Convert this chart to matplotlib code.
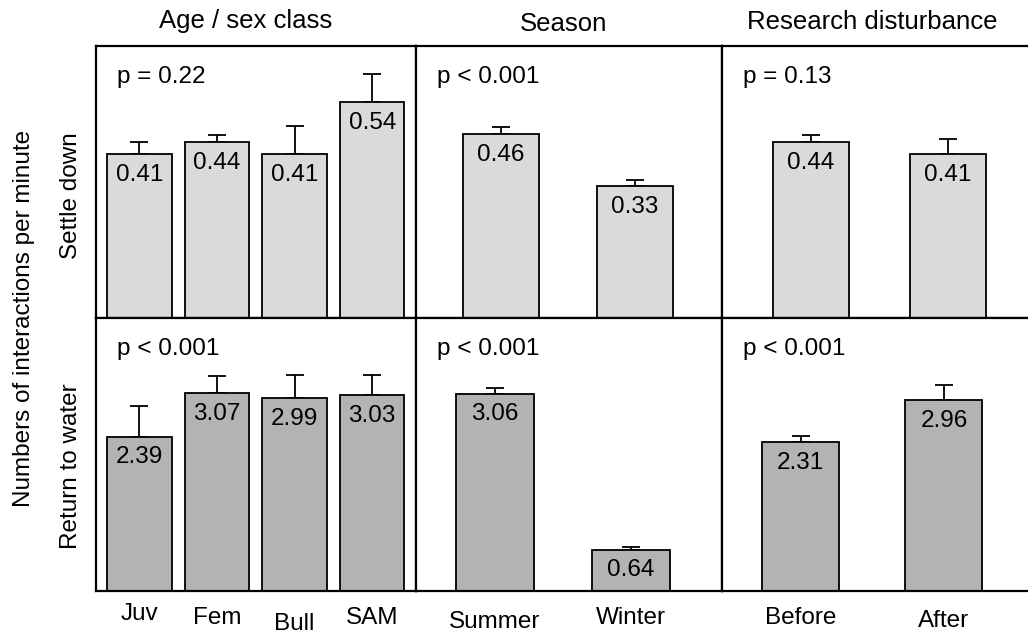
import matplotlib.pyplot as plt
import numpy as np

plt.rcParams['font.family'] = ['Liberation Sans', 'DejaVu Sans']

groups = ['Age / sex class', 'Season', 'Research disturbance']
categories = [['Juv', 'Fem', 'Bull', 'SAM'], ['Summer', 'Winter'], ['Before', 'After']]
behaviours = ['Settle down', 'Return to water']

# interactions per minute, mean and upper error
settle_means = [[0.41, 0.44, 0.41, 0.54], [0.46, 0.33], [0.44, 0.41]]
settle_errs = [[0.03, 0.017, 0.07, 0.07], [0.017, 0.015], [0.018, 0.037]]
settle_p = ['p = 0.22', 'p < 0.001', 'p = 0.13']

water_means = [[2.39, 3.07, 2.99, 3.03], [3.06, 0.64], [2.31, 2.96]]
water_errs = [[0.48, 0.26, 0.36, 0.31], [0.09, 0.04], [0.09, 0.23]]
water_p = ['p < 0.001', 'p < 0.001', 'p < 0.001']

rows = [
    dict(means=settle_means, errs=settle_errs, p=settle_p, color='#dadada', ymax=0.68,
         xlims=[(-0.56, 3.56), (-0.634, 1.648), (-0.652, 1.6)], widths=[0.83, 0.566, 0.551]),
    dict(means=water_means, errs=water_errs, p=water_p, color='#b3b3b3', ymax=4.23,
         xlims=[(-0.56, 3.56), (-0.582, 1.665), (-0.55, 1.6)], widths=[0.83, 0.576, 0.537]),
]

# staggered category labels (pad in points)
label_pads = [[8.5, 11.5, 15.5, 11.5], [14.5, 11.5], [11.5, 13.5]]

W, H = 1028, 635
fig = plt.figure(figsize=(W / 100, H / 100), dpi=100)

col_edges = [96, 415.7, 721.7, 1030]
row_edges = [46, 318, 591]
title_pos = [(246, 21), (564, 24), (872, 22)]
row_label_y = [196, 466]

for r, row in enumerate(rows):
    for c in range(3):
        x0, x1 = col_edges[c], col_edges[c + 1]
        y0, y1 = row_edges[r], row_edges[r + 1]
        ax = fig.add_axes([x0 / W, 1 - y1 / H, (x1 - x0) / W, (y1 - y0) / H])

        means = row['means'][c]
        errs = row['errs'][c]
        x = np.arange(len(means))

        ax.errorbar(x, means, yerr=[np.zeros(len(errs)), errs], fmt='none',
                    ecolor='black', elinewidth=1.3, capsize=6.5, capthick=1.3, zorder=1)
        ax.bar(x, means, width=row['widths'][c], color=row['color'],
               edgecolor='black', linewidth=1.3, zorder=2)

        for xi, m in zip(x, means):
            ax.annotate(f'{m:.2f}', xy=(xi, m), xytext=(0, -7), textcoords='offset points',
                        ha='center', va='top', fontsize=17.5, zorder=3)

        ax.annotate(row['p'][c], xy=(0, 1), xycoords='axes fraction', xytext=(15, -14.5),
                    textcoords='offset points', ha='left', va='top', fontsize=17.5)

        ax.set_xlim(*row['xlims'][c])
        ax.set_ylim(0, row['ymax'])
        ax.set_yticks([])
        for s in ax.spines.values():
            s.set_linewidth(1.6)

        if r == 1:
            ax.set_xticks(x)
            ax.set_xticklabels(categories[c], fontsize=17.5)
            ax.tick_params(axis='x', length=0)
            for tick, pad in zip(ax.xaxis.get_major_ticks(), label_pads[c]):
                tick.set_pad(pad)
        else:
            ax.set_xticks([])

for c, (tx, ty) in enumerate(title_pos):
    fig.text(tx / W, 1 - ty / H, groups[c], ha='center', va='center', fontsize=18.5)

for r, ly in enumerate(row_label_y):
    fig.text(71 / W, 1 - ly / H, behaviours[r], rotation=90,
             ha='center', va='center', fontsize=17.5)

fig.text(24 / W, 1 - 318 / H, 'Numbers of interactions per minute', rotation=90,
         ha='center', va='center', fontsize=17.5)

fig.savefig('out.png', dpi=100)
